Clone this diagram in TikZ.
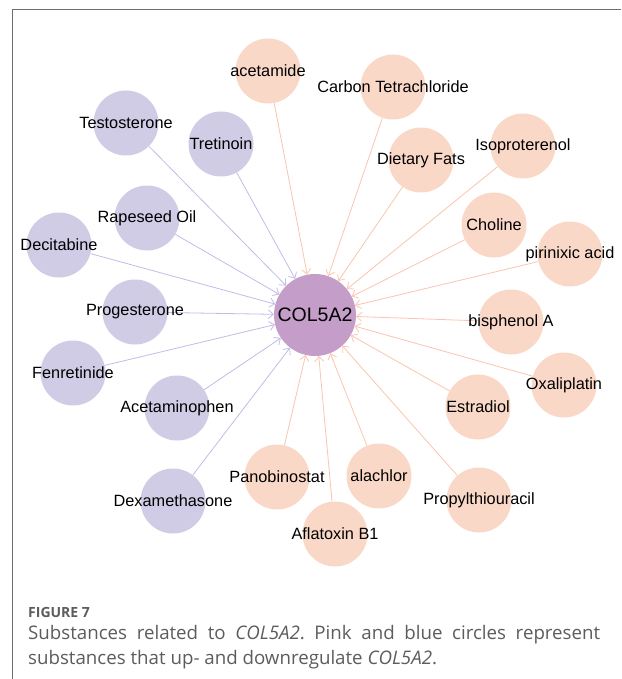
\documentclass[tikz,border=0pt]{standalone}
\usepackage{fontspec}
\setmainfont{Liberation Sans}
\newfontfamily\capfont{Open Sans}
\usepackage{tikz}
\usetikzlibrary{arrows.meta}
\usetikzlibrary{backgrounds}

\definecolor{downfill}{RGB}{208,204,230}
\definecolor{upfill}{RGB}{250,216,200}
\definecolor{genefill}{RGB}{196,158,200}
\definecolor{downline}{RGB}{192,188,232}
\definecolor{upline}{RGB}{249,196,176}
\definecolor{capgray}{RGB}{92,92,92}
\definecolor{framegray}{RGB}{110,110,110}

\tikzset{
    downsub/.style={circle, fill=downfill, minimum size=65pt, inner sep=0pt, label={center:#1}},
    upsub/.style={circle, fill=upfill, minimum size=65pt, inner sep=0pt, label={center:#1}},
    gene/.style={circle, fill=genefill, minimum size=82pt, inner sep=0pt, font=\fontsize{19.5}{19.5}\selectfont},
    downedge/.style={draw=downline, line width=0.8pt, -{Straight Barb[length=5pt,width=9pt]}},
    upedge/.style={draw=upline, line width=0.8pt, -{Straight Barb[length=5pt,width=9pt]}},
}

\begin{document}
\frenchspacing
\begin{tikzpicture}[x=1pt, y=-1pt, font=\fontsize{16.3}{18}\selectfont]
    \useasboundingbox (0,0) rectangle (621,679);
    \draw[framegray, line width=1pt] (12,679) -- (12,9.5) -- (621,9.5);

    \node[gene] at (315,315) (col) {COL5A2};

    % downregulating
    \node[downsub=Testosterone] at (126,123) (testo) {};
    \node[downsub=Tretinoin] at (221,144) (tret) {};
    \node[downsub=Rapeseed Oil] at (147,218) (rape) {};
    \node[downsub=Decitabine] at (59,245) (deci) {};
    \node[downsub=Progesterone] at (135,312) (prog) {};
    \node[downsub=Fenretinide] at (73,373) (fenr) {};
    \node[downsub=Acetaminophen] at (177,408) (acetam) {};
    \node[downsub=Dexamethasone] at (173,501) (dexa) {};

    % upregulating
    \node[upsub=acetamide] at (268,71) (acet) {};
    \node[upsub=Carbon Tetrachloride] at (393,87) (carbon) {};
    \node[upsub=Dietary Fats] at (421,160) (fats) {};
    \node[upsub=Isoproterenol] at (523,146) (iso) {};
    \node[upsub=Choline] at (494,225) (chol) {};
    \node[upsub=pirinixic acid] at (570,254) (piri) {};
    \node[upsub=bisphenol A] at (511,322) (bisa) {};
    \node[upsub=Oxaliplatin] at (564,385) (oxal) {};
    \node[upsub=Estradiol] at (478,407) (estr) {};
    \node[upsub=Propylthiouracil] at (479,500) (prop) {};
    \node[upsub=alachlor] at (379,476) (alach) {};
    \node[upsub=Aflatoxin B1] at (335,534) (afla) {};
    \node[upsub=Panobinostat] at (277,477) (pano) {};

    \begin{scope}[on background layer]
        \foreach \s in {testo,tret,rape,deci,prog,fenr,acetam,dexa}
            \draw[downedge] (\s) -- (col);
        \foreach \s in {acet,carbon,fats,iso,chol,piri,bisa,oxal,estr,prop,alach,afla,pano}
            \draw[upedge] (\s) -- (col);
    \end{scope}

    \node[anchor=base west, inner sep=0pt, text=capgray, font=\capfont\bfseries\fontsize{14}{14}\selectfont] at (28,617) (figno) {FIGURE 7};
    \node[anchor=north west, inner sep=0pt, text width=572pt, align=justify, text=capgray, font=\capfont\fontsize{18.7}{25}\selectfont] at (28,625) (caption) {\hyphenpenalty=10000\exhyphenpenalty=10000\relax Substances related to \textit{COL5A2}. Pink and blue circles represent substances that up- and downregulate \textit{COL5A2}.\par};
\end{tikzpicture}
\end{document}
